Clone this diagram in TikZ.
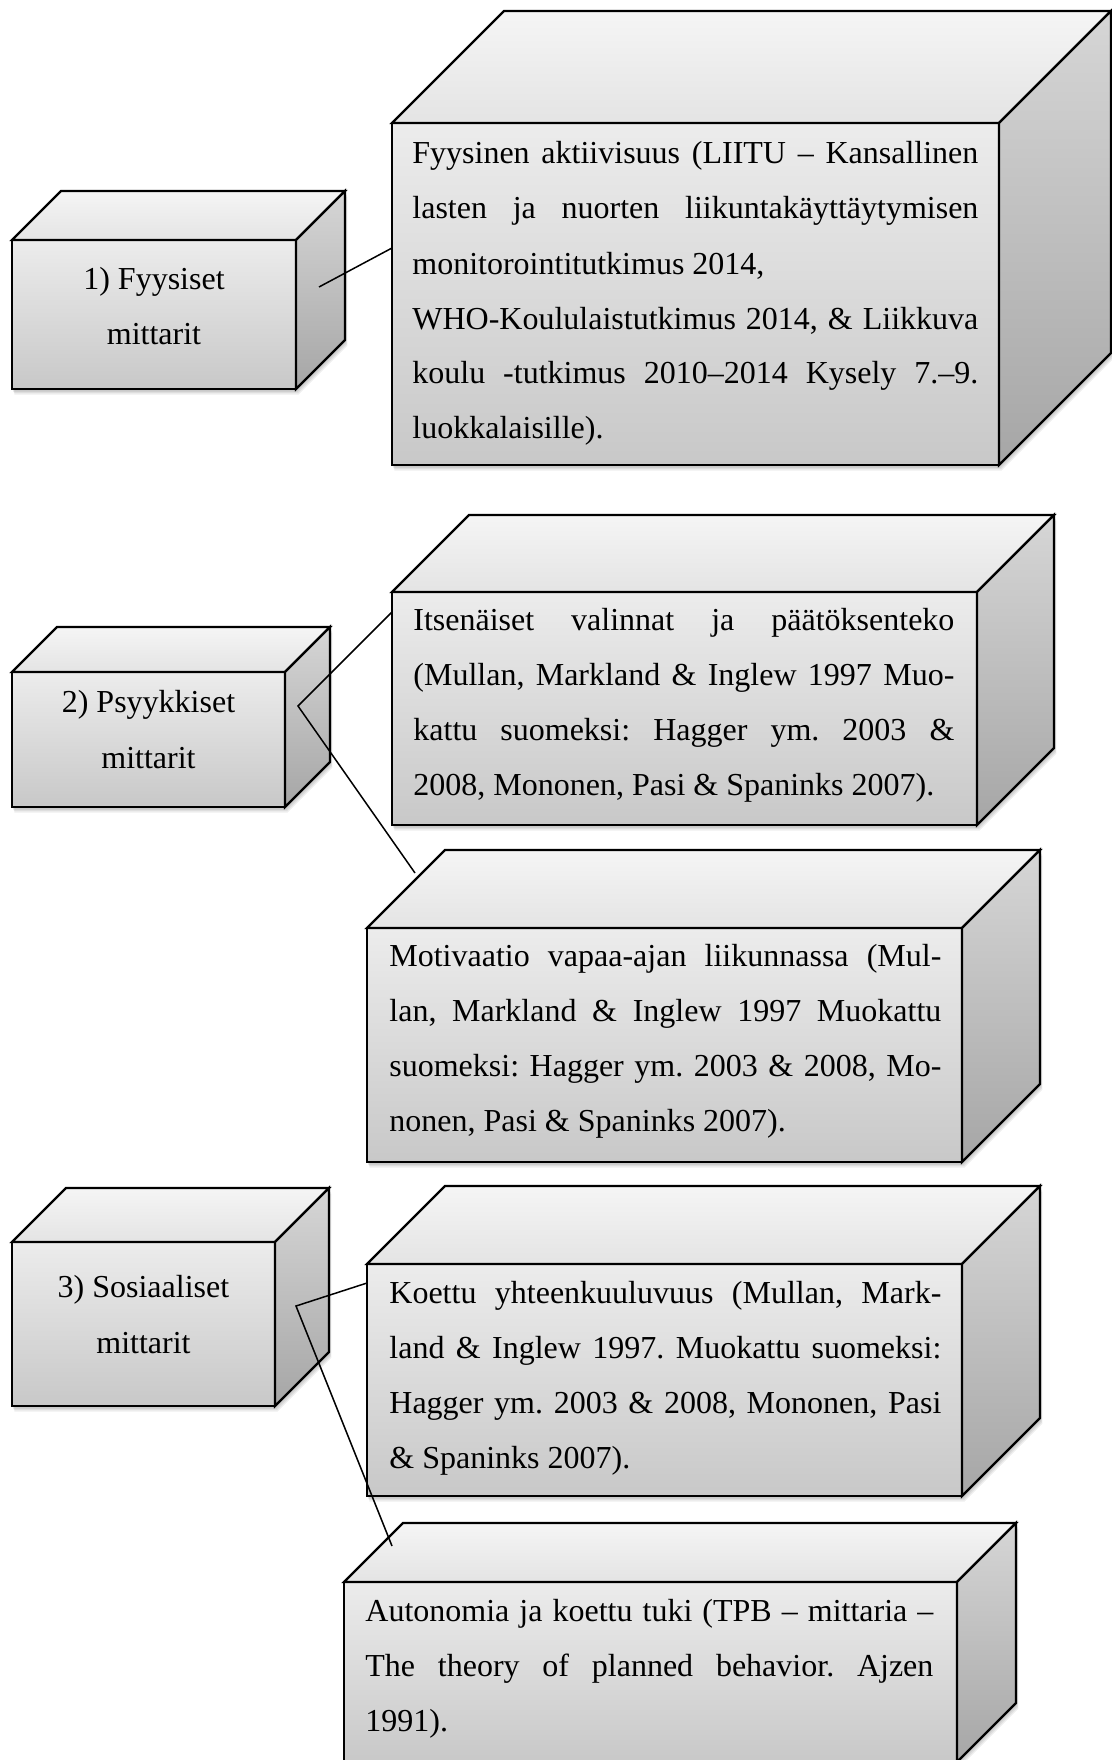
\documentclass[tikz,border=0pt]{standalone}
\usepackage{fontspec}
\setmainfont{Liberation Serif}
\definecolor{ftop}{RGB}{236,236,236}
\definecolor{fbot}{RGB}{200,200,200}
\definecolor{ttop}{RGB}{245,245,245}
\definecolor{tbot}{RGB}{228,228,228}
\definecolor{rtop}{RGB}{214,214,214}
\definecolor{rbot}{RGB}{166,166,166}
\tikzset{
  boxline/.style={draw=black, line width=1.1pt, line join=miter},
  frontface/.style={boxline, top color=ftop, bottom color=fbot},
  topface/.style={boxline, top color=ttop, bottom color=tbot},
  sideface/.style={boxline, top color=rtop, bottom color=rbot},
  link/.style={draw=black, line width=0.75pt},
  boxtext/.style={anchor=base west, inner sep=0pt},
  cubelabel/.style={anchor=base, inner sep=0pt},
}
% #1 x1, #2 y1 (front top-left), #3 x2, #4 y2 (front bottom-right), #5 depth
\newcommand\mycube[5]{%
  \foreach \s in {1,2,3,4}{%
    \fill[black,opacity=0.065,shift={(0.6*\s,1.4*\s)}]
      (#1,#4) -- (#1,#2) -- ({#1+#5},{#2-#5}) -- ({#3+#5},{#2-#5})
      -- ({#3+#5},{#4-#5}) -- (#3,#4) -- cycle;}
  \path[frontface] (#1,#2) rectangle (#3,#4);
  \path[topface] (#1,#2) -- ({#1+#5},{#2-#5}) -- ({#3+#5},{#2-#5}) -- (#3,#2) -- cycle;
  \path[sideface] (#3,#2) -- ({#3+#5},{#2-#5}) -- ({#3+#5},{#4-#5}) -- (#3,#4) -- cycle;
}
\newcommand\jline[1]{\makebox[\linewidth][s]{#1}\par}
\newcommand\lline[1]{\mbox{#1}\par}
\newcommand\txtsetup{\fontsize{16pt}{27.6pt}\selectfont\frenchspacing\parskip=0pt\parindent=0pt}
\begin{document}
\begin{tikzpicture}[x=0.5pt,y=-0.5pt]
\useasboundingbox (0,0) rectangle (1112,1760);
\fill[white] (0,0) rectangle (1112,1760);
\clip (0,0) rectangle (1112,1760);

% cubes
\mycube{12}{240}{296}{389}{49}
\mycube{392}{123}{999}{465}{112}
\mycube{12}{672}{285}{807}{45}
\mycube{392}{592}{977}{825}{77}
\mycube{367}{928}{962}{1162}{78}
\mycube{12}{1242}{275}{1406}{54}
\mycube{367}{1264}{962}{1496}{78}
\mycube{344}{1582}{957}{1762}{59}

% small cube labels
\node[cubelabel] (l1) at (154,289) {\parbox[t]{200pt}{\txtsetup\centering\baselineskip=28pt 1) Fyysiset\par mittarit\par}};
\node[cubelabel] (l2) at (148.5,712) {\parbox[t]{200pt}{\txtsetup\centering\baselineskip=28pt 2) Psyykkiset\par mittarit\par}};
\node[cubelabel] (l3) at (143.5,1297) {\parbox[t]{200pt}{\txtsetup\centering\baselineskip=28pt 3) Sosiaaliset\par mittarit\par}};

% box texts
\node[boxtext] (tA) at (412,164) {\parbox[t]{283pt}{\txtsetup\baselineskip=27.5pt
\jline{Fyysinen aktiivisuus (LIITU – Kansallinen}
\jline{lasten ja nuorten liikuntakäyttäytymisen}
\lline{monitorointitutkimus 2014,}
\jline{WHO-Koululaistutkimus 2014, \& Liikkuva}
\jline{koulu -tutkimus 2010–2014 Kysely 7.–9.}
\lline{luokkalaisille).}}};

\node[boxtext] (tB) at (413,630) {\parbox[t]{270.5pt}{\txtsetup
\jline{Itsenäiset valinnat ja päätöksenteko}
\jline{(Mullan, Markland \& Inglew 1997 Muo-}
\jline{kattu suomeksi: Hagger ym. 2003 \&}
\lline{2008, Mononen, Pasi \& Spaninks 2007).}}};

\node[boxtext] (tC) at (389,966) {\parbox[t]{276pt}{\txtsetup
\jline{Motivaatio vapaa-ajan liikunnassa (Mul-}
\jline{lan, Markland \& Inglew 1997 Muokattu}
\jline{suomeksi: Hagger ym. 2003 \& 2008, Mo-}
\lline{nonen, Pasi \& Spaninks 2007).}}};

\node[boxtext] (tD) at (389,1303) {\parbox[t]{276pt}{\txtsetup
\jline{Koettu yhteenkuuluvuus (Mullan, Mark-}
\jline{land \& Inglew 1997. Muokattu suomeksi:}
\jline{Hagger ym. 2003 \& 2008, Mononen, Pasi}
\lline{\& Spaninks 2007).}}};

\node[boxtext] (tE) at (365,1621) {\parbox[t]{284pt}{\txtsetup
\jline{Autonomia ja koettu tuki (TPB – mittaria –}
\jline{The theory of planned behavior. Ajzen}
\lline{1991).}}};

% connector endpoints
\coordinate (v1) at (319,287);
\coordinate (pA) at (392,248);
\coordinate (v2) at (298,706);
\coordinate (pB) at (392,612);
\coordinate (pC) at (415,873);
\coordinate (v3) at (296,1306);
\coordinate (pD) at (367,1283);
\coordinate (pE) at (392,1546);

\draw[link] (v1) -- (pA);
\draw[link] (pB) -- (v2) -- (pC);
\draw[link] (pD) -- (v3) -- (pE);
\end{tikzpicture}
\end{document}
